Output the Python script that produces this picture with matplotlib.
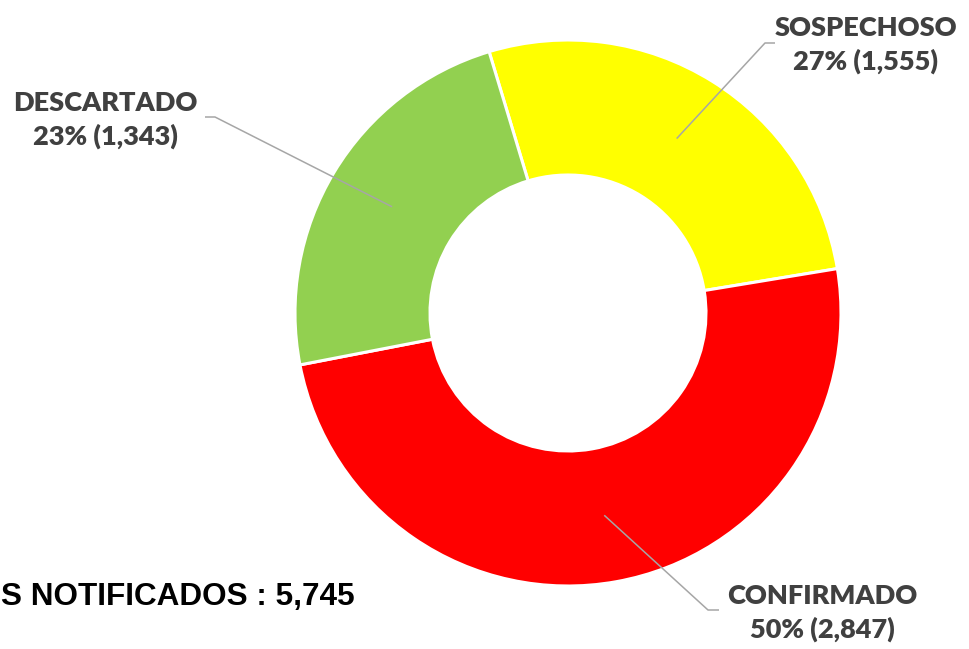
import numpy as np
import matplotlib.pyplot as plt

# data
categories = ['SOSPECHOSO', 'CONFIRMADO', 'DESCARTADO']
values = [1555, 2847, 1343]
colors = ['#FFFF00', '#FF0000', '#92D050']
total_label = 'S NOTIFICADOS : 5,745'

W, H = 969, 649
fig = plt.figure(figsize=(W / 100, H / 100), dpi=100)
ax = fig.add_axes([0, 0, 1, 1])

cx, cy = 568, H - 313
r_out, r_in = 273, 138
start = 106.8

wedges, _ = ax.pie(values, colors=colors, startangle=start, counterclock=False,
                   center=(cx, cy), radius=r_out, frame=False,
                   wedgeprops=dict(width=r_out - r_in, edgecolor='white', linewidth=2.2))
ax.set_xlim(0, W)
ax.set_ylim(0, H)
ax.set_aspect('equal')
ax.axis('off')

# label layout: text centre, elbow and end of leader line (pixel coords from top)
label_pos = {'SOSPECHOSO': (866, 45), 'CONFIRMADO': (822, 613), 'DESCARTADO': (105, 120)}
leader = {'SOSPECHOSO': ((765, 43), (775, 43)),
          'CONFIRMADO': ((708, 610), (719, 610)),
          'DESCARTADO': ((215, 117), (205, 117))}

tot = sum(values)
r_mid = (r_out + r_in) / 2
for w, cat, v in zip(wedges, categories, values):
    ang = np.deg2rad((w.theta1 + w.theta2) / 2)
    ax_, ay_ = cx + r_mid * np.cos(ang), cy + r_mid * np.sin(ang)
    (ex, ey), (fx, fy) = leader[cat]
    ax.plot([ax_, ex, fx], [ay_, H - ey, H - fy], color='#A6A6A6', lw=1.1,
            solid_capstyle='butt')
    tx, ty = label_pos[cat]
    ax.text(tx, H - ty, f'{cat}\n{round(v / tot * 100)}% ({v:,})', ha='center', va='center',
            fontsize=19.5, fontweight='heavy', family='Lato', color='#404040', linespacing=1.4)

ax.text(1, H - 597, total_label, ha='left', va='center', fontsize=22.7,
        fontweight='bold', family='Liberation Sans', color='black')

fig.savefig('out.png', dpi=100)
